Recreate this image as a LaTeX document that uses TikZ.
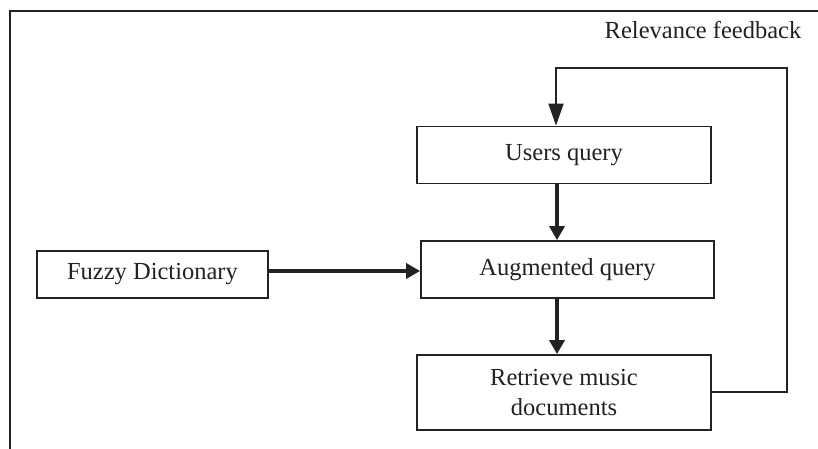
\documentclass[tikz,border=0pt]{standalone}
\usepackage{fontspec}
\setmainfont{Liberation Serif}
\usetikzlibrary{arrows.meta}
\definecolor{ink}{HTML}{222222}
\begin{document}
\begin{tikzpicture}[x=1pt,y=-1pt,
  box/.style={draw=ink, line width=1.8pt, inner sep=0pt, align=center, text=ink,
    font=\fontsize{24.5}{30}\selectfont},
  thickarrow/.style={draw=ink, line width=3.5pt, -{Triangle[length=14pt,width=15pt]}},
  thinarrow/.style={draw=ink, line width=1.8pt, -{Triangle[length=22pt,width=15pt]}},
  lbl/.style={text=ink, inner sep=0pt, font=\fontsize{24.5}{30}\selectfont}]
\useasboundingbox (0,0) rectangle (818,449);
\fill[white] (0,0) rectangle (818,449);
\draw[ink, line width=2pt] (9.5,449) -- (9.5,11) -- (818,11);
\node[lbl] (rf) at (703,30) {Relevance feedback};
\node[box, minimum width=294pt, minimum height=57pt] (U) at (564,155) {Users query};
\node[box, minimum width=293pt, minimum height=57pt] (A) at (567.5,269.5) {Augmented query};
\node[box, minimum width=294pt, minimum height=75pt] (R) at (564,392.5) {Retrieve music\\documents};
\node[box, minimum width=231pt, minimum height=47pt] (F) at (152.5,274.5) {Fuzzy Dictionary};
\coordinate (ax) at (557,0);
\coordinate (fx) at (556,0);
\coordinate (ry) at (0,392);
\coordinate (cr) at (787,392);
\coordinate (ct) at (787,68);
\coordinate (cl) at (556,68);
\coordinate (fy) at (0,271);
\draw[thickarrow] (U.south -| ax) -- (A.north -| ax);
\draw[thickarrow] (A.south -| ax) -- (R.north -| ax);
\draw[thickarrow] (F.east |- fy) -- (A.west |- fy);
\draw[thinarrow] (R.east |- ry) -- (cr) -- (ct) -- (cl) -- (U.north -| fx);
\end{tikzpicture}
\end{document}
